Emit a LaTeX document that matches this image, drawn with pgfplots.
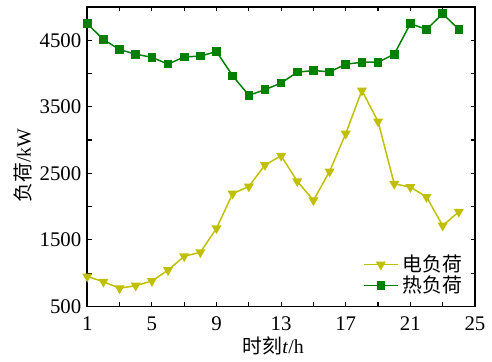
\documentclass[border=0pt]{standalone}
\usepackage{pgfplots}
\pgfplotsset{compat=1.18}
\usepackage{fontspec}
\setmainfont{Liberation Serif}
\newfontfamily\cjk{Noto Sans CJK SC}
\definecolor{eload}{RGB}{192,192,0}
\definecolor{hload}{RGB}{0,128,0}
\begin{document}
\begin{tikzpicture}
\begin{axis}[
  scale only axis,
  width=195.5pt, height=151pt,
  xmin=1, xmax=25, ymin=500, ymax=5000,
  xtick={1,3,...,25},
  xticklabels={1,,5,,9,,13,,17,,21,,25},
  ytick={500,1000,...,5000},
  yticklabels={500,,1500,,2500,,3500,,4500,},
  tick align=inside,
  major tick length=2.2pt,
  tick style={black, line width=0.6pt},
  axis line style={line width=0.9pt},
  /pgf/number format/assume math mode=true,
  tick label style={font=\fontsize{10.5}{12}\selectfont},
  xticklabel style={yshift=-1.5pt},
  yticklabel style={xshift=0.5pt},
  every axis y label/.style={at={(ticklabel cs:0.47)}, rotate=90, anchor=center},
  ylabel={{\cjk 负荷}/kW},
  ylabel style={font=\fontsize{10}{12}\selectfont, yshift=5pt},
  xlabel={{\cjk 时刻}\textit{t}/h},
  xlabel style={font=\fontsize{10}{12}\selectfont, xshift=-4pt, yshift=3.5pt},
  legend style={draw=none, fill=none, at={(0.993,0.01)}, anchor=south east,
    font=\cjk\fontsize{10}{12}\selectfont, row sep=-3.5pt},
  legend cell align=left,
  clip=false,
]
\addplot[color=eload, line width=0.75pt, mark=triangle*, mark size=2.2pt,
  mark options={rotate=180, solid}] coordinates {
(1,950) (2,871) (3,772) (4,812) (5,882) (6,1045) (7,1253) (8,1313)
(9,1674) (10,2194) (11,2302) (12,2625) (13,2763) (14,2380) (15,2094)
(16,2528) (17,3096) (18,3744) (19,3279) (20,2342) (21,2293) (22,2145)
(23,1714) (24,1922)
};
\addlegendentry{电负荷}
\addplot[color=hload, line width=0.75pt, mark=square*, mark size=1.8pt] coordinates {
(1,4748) (2,4510) (3,4360) (4,4290) (5,4243) (6,4140) (7,4250) (8,4260)
(9,4330) (10,3965) (11,3672) (12,3757) (13,3857) (14,4020) (15,4044)
(16,4025) (17,4139) (18,4169) (19,4169) (20,4290) (21,4748) (22,4663)
(23,4897) (24,4663)
};
\addlegendentry{热负荷}
\end{axis}
\path (current axis.south west) ++(-44pt,-24.5pt) coordinate (bbsw);
\path (current axis.north east) ++(6.5pt,3.5pt) coordinate (bbne);
\path (bbsw) rectangle (bbne);
\end{tikzpicture}
\end{document}
